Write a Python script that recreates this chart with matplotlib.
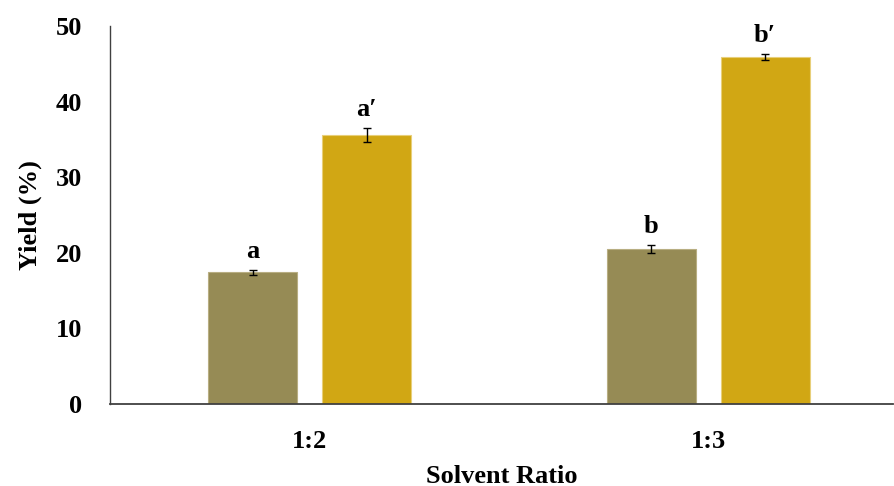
import matplotlib
matplotlib.use("Agg")
import matplotlib.pyplot as plt
import numpy as np

categories = ["1:2", "1:3"]
series1 = [17.4, 20.5]
series1_err = [0.3, 0.5]
series2 = [35.6, 45.9]
series2_err = [0.95, 0.4]
labels1 = ["a", "b"]
labels2 = ["a\u2032", "b\u2032"]
yticks = [0, 10, 20, 30, 40, 50]

plt.rcParams['font.family'] = ['Liberation Serif', 'DejaVu Serif']
plt.rcParams['font.weight'] = 'bold'

FS = 19

fig = plt.figure(figsize=(8.94, 4.86), dpi=100)
ax = fig.add_axes([110/894, 82/486, 783/894, 378/486])

x = np.arange(len(categories))
w = 0.223
off = 0.143
c1 = "#968B55"
c2 = "#D1A714"
ax.bar(x - off, series1, w, color=c1, edgecolor="#B8AE82", linewidth=0.8, zorder=2)
ax.bar(x + off, series2, w, color=c2, edgecolor="#E8CF7A", linewidth=0.8, zorder=2)
ax.errorbar(x - off, series1, yerr=series1_err, fmt='none', ecolor='black',
            elinewidth=1, capsize=3, capthick=1, zorder=3)
ax.errorbar(x + off, series2, yerr=series2_err, fmt='none', ecolor='black',
            elinewidth=1, capsize=3, capthick=1, zorder=3)

for xi, v, e, t in zip(x - off, series1, series1_err, labels1):
    ax.annotate(t, (xi, v + e), xytext=(0, 5), textcoords='offset points',
                ha='center', va='bottom', fontsize=FS, fontweight='bold')
for xi, v, e, t in zip(x + off, series2, series2_err, labels2):
    ax.annotate(t, (xi, v + e), xytext=(0, 5), textcoords='offset points',
                ha='center', va='bottom', fontsize=FS, fontweight='bold')

ax.set_xlim(-0.5006, 1.464)
ax.set_ylim(0, 50)
ax.set_yticks(yticks)
ax.set_xticks(x)
ax.set_xticklabels(categories)
ax.tick_params(axis='y', length=0, pad=20, labelsize=FS)
ax.tick_params(axis='x', length=0, pad=19, labelsize=FS)
for lab in ax.get_xticklabels() + ax.get_yticklabels():
    lab.set_fontweight('bold')

for s in ['top', 'right']:
    ax.spines[s].set_visible(False)
ax.spines['left'].set_color('#404040')
ax.spines['bottom'].set_color('#404040')
ax.spines['left'].set_linewidth(1.0)
ax.spines['bottom'].set_linewidth(1.3)

ax.set_ylabel("Yield (%)", fontsize=FS, fontweight='bold', labelpad=10)
ax.set_xlabel("Solvent Ratio", fontsize=FS, fontweight='bold', labelpad=8)

fig.savefig("out.png", dpi=100)
